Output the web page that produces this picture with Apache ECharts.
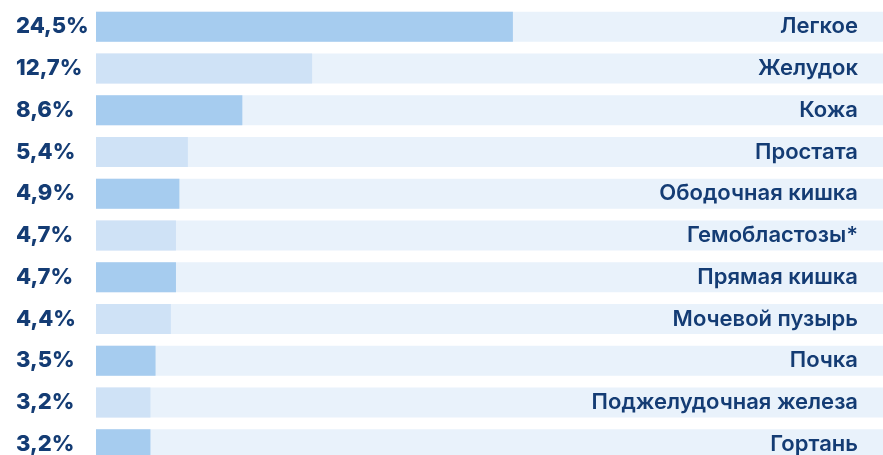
<!DOCTYPE html>
<html><head><meta charset="utf-8">
<script src="https://cdn.jsdelivr.net/npm/echarts@6/dist/echarts.min.js"></script>
<style>html,body{margin:0;padding:0;background:#fff}#c{width:883px;height:455px}</style>
</head><body><div id="c"></div>
<script>
const categories = ["Легкое","Желудок","Кожа","Простата","Ободочная кишка","Гемобластозы*","Прямая кишка","Мочевой пузырь","Почка","Поджелудочная железа","Гортань"];
const values = [24.5,12.7,8.6,5.4,4.9,4.7,4.7,4.4,3.5,3.2,3.2];
const percentLabels = ["24,5%","12,7%","8,6%","5,4%","4,9%","4,7%","4,7%","4,4%","3,5%","3,2%","3,2%"];

const dark = '#a6ccef', light = '#cfe2f6', track = '#e9f2fb', txt = '#143c74';
const chart = echarts.init(document.getElementById('c'));
chart.setOption({
  animation:false,
  grid:{left:96, right:0, top:6, height:459, outerBoundsMode:'none', containLabel:false},
  xAxis:{type:'value', min:0, max:46.25, show:false},
  yAxis:[
    {type:'category', data:categories, inverse:true, position:'left',
     axisLine:{show:false}, axisTick:{show:false},
     axisLabel:{formatter:(v,i)=>percentLabels[i], align:'left', margin:80,
       fontFamily:'Inter', fontWeight:800, fontSize:22, color:txt}},
    {type:'category', data:categories, inverse:true, position:'right', z:10,
     axisLine:{show:false}, axisTick:{show:false},
     axisLabel:{inside:true, margin:25, fontFamily:'Inter', fontWeight:600, fontSize:22, color:txt}}
  ],
  series:[{
    type:'bar', yAxisIndex:0, barWidth:30,
    showBackground:true, backgroundStyle:{color:track},
    data: values.map((v,i)=>({value:v, itemStyle:{color: i%2===0?dark:light}}))
  }]
});
</script></body></html>
